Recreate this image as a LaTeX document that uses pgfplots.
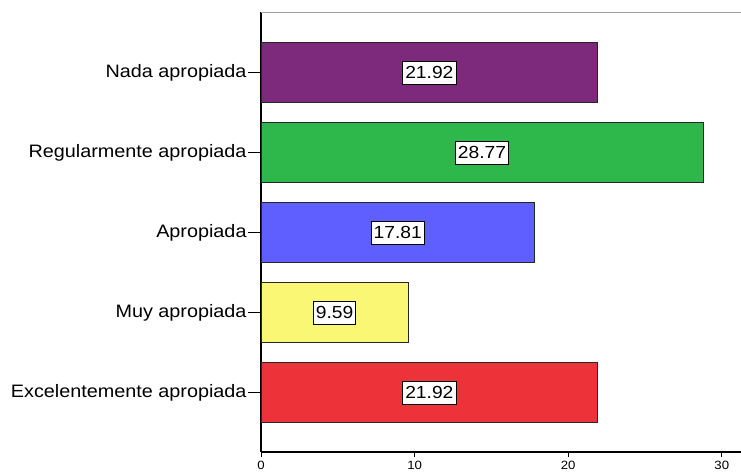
\documentclass[border=0pt]{standalone}
\usepackage{fontspec}
\setmainfont[FakeStretch=1.1]{Liberation Sans}
\usepackage{pgfplots}
\pgfplotsset{compat=1.18}
\definecolor{cpurple}{RGB}{125,42,125}
\definecolor{cgreen}{RGB}{46,184,75}
\definecolor{cblue}{RGB}{95,95,255}
\definecolor{cyellow}{RGB}{249,247,116}
\definecolor{cred}{RGB}{238,50,57}
\begin{document}
\begin{tikzpicture}[x=1pt,y=1pt]
\useasboundingbox (0,0) rectangle (741,471);
\begin{axis}[at={(261pt,19pt)}, anchor=south west, scale only axis,
  width=480pt, height=440pt,
  xmin=0, xmax=31.25, ymin=-0.74, ymax=4.76,
  axis x line*=bottom, axis y line*=left,
  axis line style={black, line width=1.2pt, -},
  xtick={0,10,20,30}, ytick={0,1,2,3,4},
  yticklabels={Excelentemente apropiada, Muy apropiada, Apropiada, Regularmente apropiada, Nada apropiada},
  tick align=outside,
  xtick style={/pgfplots/major tick length=5pt, black, line width=1pt},
  ytick style={/pgfplots/major tick length=13pt, black, line width=1pt},
  y tick label style={font=\fontsize{18}{20}\selectfont, inner xsep=0pt, xshift=-10pt},
  x tick label style={font=\fontsize{12}{13}\selectfont, inner ysep=1pt, yshift=-4pt},
  /pgf/number format/assume math mode=true,
  clip=false]
\draw[gray!75, line width=1pt] (rel axis cs:0,1) -- (rel axis cs:1,1);
\addplot[xbar, bar width=0.75, bar shift=0, fill=cred, draw=black!85, line width=0.8pt] coordinates {(21.92,0)};
\addplot[xbar, bar width=0.75, bar shift=0, fill=cyellow, draw=black!85, line width=0.8pt] coordinates {(9.59,1)};
\addplot[xbar, bar width=0.75, bar shift=0, fill=cblue, draw=black!85, line width=0.8pt] coordinates {(17.81,2)};
\addplot[xbar, bar width=0.75, bar shift=0, fill=cgreen, draw=black!85, line width=0.8pt] coordinates {(28.77,3)};
\addplot[xbar, bar width=0.75, bar shift=0, fill=cpurple, draw=black!85, line width=0.8pt] coordinates {(21.92,4)};
\addplot[draw=none, mark=none, nodes near coords, point meta=explicit symbolic,
  nodes near coords style={anchor=center, fill=white, draw=black, line width=0.8pt,
    inner xsep=2.5pt, inner ysep=5pt, font=\fontsize{17.5}{20}\selectfont}]
  coordinates {(10.96,0)[21.92] (4.795,1)[9.59] (8.905,2)[17.81] (14.385,3)[28.77] (10.96,4)[21.92]};
\end{axis}
\end{tikzpicture}
\end{document}
